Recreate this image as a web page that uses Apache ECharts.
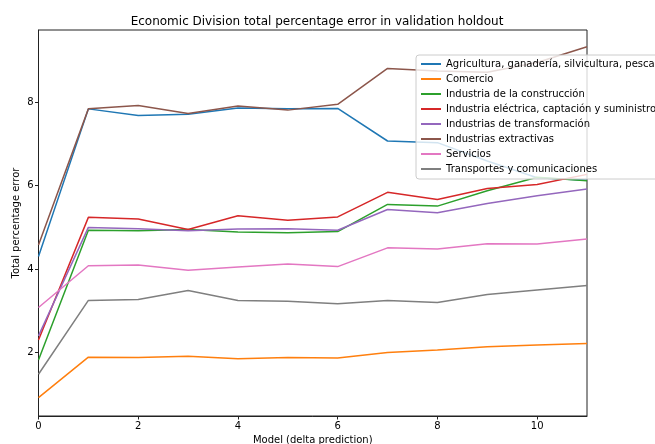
<!DOCTYPE html>
<html>
<head>
<meta charset="utf-8">
<script src="https://cdn.jsdelivr.net/npm/echarts@6/dist/echarts.min.js"></script>
<style>
  html, body { margin: 0; padding: 0; background: #fff; }
  #chart { width: 655px; height: 444px; }
</style>
</head>
<body>
<div id="chart"></div>
<script>
// Model index (delta prediction) on the x axis
const modelSteps = [0, 1, 2, 3, 4, 5, 6, 7, 8, 9, 10, 11];

// Total percentage error per economic division
const seriesNames = [
  'Agricultura, ganadería, silvicultura, pesca',
  'Comercio',
  'Industria de la construcción',
  'Industria eléctrica, captación y suministro',
  'Industrias de transformación',
  'Industrias extractivas',
  'Servicios',
  'Transportes y comunicaciones'
];
const agricultura    = [4.30, 7.84, 7.68, 7.71, 7.86, 7.84, 7.85, 7.07, 7.03, 6.59, 6.19, 6.13];
const comercio       = [0.92, 1.89, 1.88, 1.91, 1.85, 1.88, 1.87, 2.00, 2.06, 2.14, 2.18, 2.22];
const construccion   = [1.82, 4.93, 4.92, 4.95, 4.89, 4.87, 4.90, 5.55, 5.51, 5.88, 6.20, 6.12];
const electrica      = [2.30, 5.24, 5.20, 4.95, 5.28, 5.17, 5.25, 5.84, 5.67, 5.93, 6.03, 6.27];
const transformacion = [2.40, 5.00, 4.97, 4.92, 4.96, 4.97, 4.93, 5.43, 5.35, 5.57, 5.76, 5.92];
const extractivas    = [4.58, 7.84, 7.92, 7.73, 7.91, 7.81, 7.95, 8.81, 8.75, 8.72, 8.95, 9.33];
const servicios      = [3.08, 4.08, 4.10, 3.97, 4.05, 4.12, 4.06, 4.51, 4.48, 4.61, 4.60, 4.72];
const transportes    = [1.48, 3.25, 3.27, 3.49, 3.25, 3.23, 3.17, 3.25, 3.20, 3.39, 3.50, 3.61];

const xTicks = [0, 2, 4, 6, 8, 10];
const yTicks = [2, 4, 6, 8];

const allValues = [agricultura, comercio, construccion, electrica,
                   transformacion, extractivas, servicios, transportes];
const palette = ['#1f77b4', '#ff7f0e', '#2ca02c', '#d62728',
                 '#9467bd', '#8c564b', '#e377c2', '#7f7f7f'];

const FONT = 'DejaVu Sans';
const INK = '#222';

const chart = echarts.init(document.getElementById('chart'), null, { renderer: 'canvas' });

chart.setOption({
  animation: false,
  backgroundColor: '#fff',
  color: palette,
  textStyle: { fontFamily: FONT },
  title: {
    text: 'Economic Division total percentage error in validation holdout',
    left: 312,
    textAlign: 'center',
    top: 11,
    textStyle: { fontFamily: FONT, fontSize: 12, fontWeight: 'normal', color: '#000' }
  },
  grid: {
    left: 38.5, right: 68, top: 30, bottom: 28,
    outerBoundsMode: 'none',
    containLabel: false,
    show: true, borderColor: INK, borderWidth: 1, backgroundColor: 'transparent'
  },
  legend: {
    orient: 'vertical',
    left: 416,
    top: 55,
    padding: [3, 6, 4, 5],
    itemWidth: 20,
    itemHeight: 10,
    itemGap: 3,
    backgroundColor: 'rgba(255,255,255,0.8)',
    borderColor: '#ccc',
    borderWidth: 1,
    borderRadius: 3,
    textStyle: { fontFamily: FONT, fontSize: 10, color: '#000', lineHeight: 12 },
    data: seriesNames.map(n => ({ name: n, icon: 'path://M0,0 L20,0 L20,2 L0,2 Z' }))
  },
  xAxis: {
    type: 'value',
    min: 0, max: 11,
    name: 'Model (delta prediction)',
    nameLocation: 'middle',
    nameGap: 18,
    nameTextStyle: { fontFamily: FONT, fontSize: 10, color: '#000' },
    axisLine: { show: true, lineStyle: { color: INK, width: 1 } },
    axisTick: { show: true, inside: false, length: 3.5, lineStyle: { color: INK }, customValues: xTicks },
    axisLabel: { fontFamily: FONT, fontSize: 10, color: '#000', margin: 5, customValues: xTicks },
    splitLine: { show: false }
  },
  yAxis: {
    type: 'value',
    min: 0.48, max: 9.73,
    name: 'Total percentage error',
    nameLocation: 'middle',
    nameMoveOverlap: false,
    nameGap: 17,
    nameTextStyle: { fontFamily: FONT, fontSize: 10, color: '#000' },
    axisLine: { show: true, lineStyle: { color: INK, width: 1 } },
    axisTick: { show: true, inside: false, length: 3.5, lineStyle: { color: INK }, customValues: yTicks },
    axisLabel: { fontFamily: FONT, fontSize: 10, color: '#000', margin: 5, customValues: yTicks },
    splitLine: { show: false }
  },
  series: seriesNames.map((name, i) => ({
    name: name,
    type: 'line',
    symbol: 'none',
    lineStyle: { width: 1.5, color: palette[i] },
    itemStyle: { color: palette[i] },
    data: modelSteps.map((x, k) => [x, allValues[i][k]])
  }))
});
</script>
</body>
</html>
